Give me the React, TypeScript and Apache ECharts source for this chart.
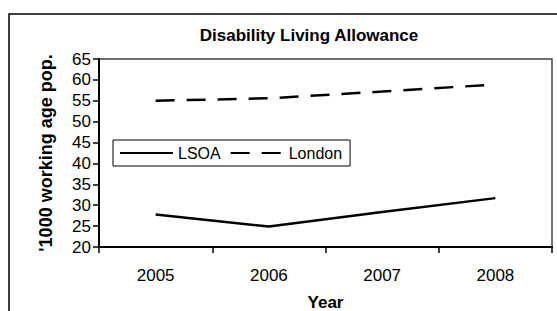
import React, { useEffect, useRef } from "react";
import * as echarts from "echarts";

const years = ["2005", "2006", "2007", "2008"];
const lsoa = [27.8, 24.9, 28.4, 31.7];
const london = [55.0, 55.6, 57.2, 58.9];
const yTicks = [20, 65, 5];

export default function App() {
  const ref = useRef<HTMLDivElement>(null);
  useEffect(() => {
    const chart = echarts.init(ref.current!, null, { renderer: "svg" });
    const font = "'Liberation Sans', Arial, sans-serif";
    chart.setOption({
      animation: false,
      backgroundColor: "#fff",
      textStyle: { fontFamily: font, color: "#000" },
      title: {
        text: "Disability Living Allowance",
        left: 304,
        top: 22,
        textAlign: "center",
        textStyle: { fontFamily: font, fontSize: 17, fontWeight: "bold", color: "#000" },
      },
      graphic: [
        {
          type: "rect",
          shape: { x: 9, y: 14, width: 700, height: 500 },
          style: { fill: "none", stroke: "#000", lineWidth: 1.5 },
          silent: true,
        },
      ],
      legend: {
        left: 113,
        top: 140,
        orient: "horizontal",
        borderColor: "#000",
        borderWidth: 1,
        padding: [5, 8, 5, 6],
        itemGap: 9,
        itemWidth: 53,
        itemHeight: 16,
        itemStyle: { opacity: 0 },
        textStyle: { fontFamily: font, fontSize: 16, color: "#000" },
        data: ["LSOA", "London"],
      },
      grid: {
        left: 99,
        top: 59,
        right: 5,
        bottom: 64,
        containLabel: false,
        outerBoundsMode: "none",
        show: true,
        borderColor: "#444",
        borderWidth: 1.5,
      },
      xAxis: {
        type: "category",
        data: years,
        boundaryGap: true,
        name: "Year",
        nameLocation: "middle",
        nameGap: 47,
        nameTextStyle: { fontFamily: font, fontSize: 17, fontWeight: "bold", color: "#000" },
        axisLine: { lineStyle: { color: "#000", width: 2 } },
        axisTick: { show: true, length: 6, inside: false, lineStyle: { color: "#000", width: 1.5 } },
        axisLabel: { margin: 20, fontFamily: font, fontSize: 17, color: "#000" },
        splitLine: { show: false },
      },
      yAxis: {
        type: "value",
        min: yTicks[0],
        max: yTicks[1],
        interval: yTicks[2],
        name: "'1000 working age pop.",
        nameLocation: "middle",
        nameGap: 44,
        nameRotate: 90,
        nameTextStyle: { fontFamily: font, fontSize: 18, fontWeight: "bold", color: "#000" },
        axisLine: { show: true, lineStyle: { color: "#000", width: 2 } },
        axisTick: { show: true, length: 6, inside: false, lineStyle: { color: "#000", width: 1.5 } },
        axisLabel: { margin: 8, fontFamily: font, fontSize: 17, color: "#000" },
        splitLine: { show: false },
      },
      series: [
        {
          name: "LSOA",
          type: "line",
          data: lsoa,
          symbol: "none",
          lineStyle: { color: "#000", width: 2.5 },
          itemStyle: { color: "#000" },
        },
        {
          name: "London",
          type: "line",
          data: london,
          symbol: "none",
          lineStyle: { color: "#000", width: 2.5, type: [19, 12] },
          itemStyle: { color: "#000" },
        },
      ],
    });
    return () => chart.dispose();
  }, []);
  return <div ref={ref} style={{ width: 557, height: 311, position: "absolute", left: 0, top: 0 }} />;
}
